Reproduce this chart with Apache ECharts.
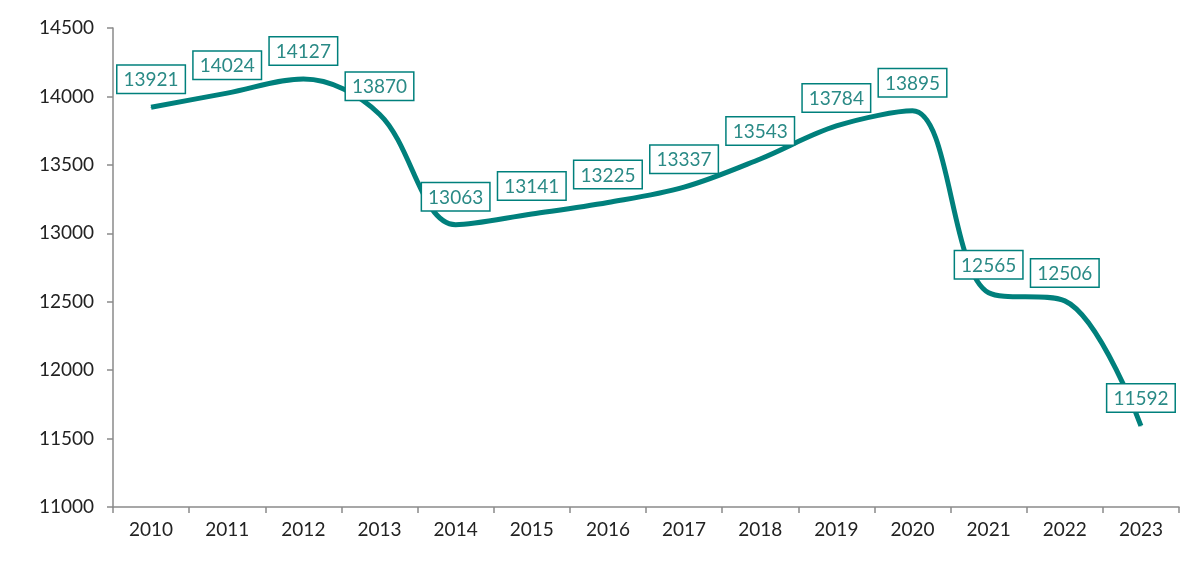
<!DOCTYPE html>
<html>
<head>
<meta charset="utf-8">
<script src="https://cdn.jsdelivr.net/npm/echarts@6/dist/echarts.min.js"></script>
<style>
  html, body { margin: 0; padding: 0; background: #fff; }
  #chart { width: 1200px; height: 562px; }
</style>
</head>
<body>
<div id="chart"></div>
<script>
const years = ["2010", "2011", "2012", "2013", "2014", "2015", "2016",
  "2017", "2018", "2019", "2020", "2021", "2022", "2023"];
const values = [13921, 14024, 14127, 13870, 13063, 13141, 13225,
  13337, 13543, 13784, 13895, 12565, 12506, 11592];

const teal = "#00807c";
const myChart = echarts.init(document.getElementById("chart"));
const option = {
  animation: false,
  textStyle: { fontFamily: "Lato" },
  grid: { left: 113, right: 21, top: 28, bottom: 55 },
  xAxis: {
    type: "category",
    data: years,
    boundaryGap: true,
    axisLine: { lineStyle: { color: "#8a8a8a", width: 1.5 } },
    axisTick: { show: true, length: 6, lineStyle: { color: "#8a8a8a", width: 1.5 } },
    axisLabel: { color: "#222", fontSize: 19, margin: 13 }
  },
  yAxis: {
    type: "value",
    min: 11000,
    max: 14500,
    interval: 500,
    splitLine: { show: false },
    axisLine: { show: true, lineStyle: { color: "#8a8a8a", width: 1.5 } },
    axisTick: { show: true, length: 6, lineStyle: { color: "#8a8a8a", width: 1.5 } },
    axisLabel: { color: "#222", fontSize: 19, margin: 19, formatter: (v) => String(v) }
  },
  series: [
    {
      type: "line",
      data: values,
      smooth: 0.35,
      symbol: "circle",
      symbolSize: 1,
      showSymbol: true,
      itemStyle: { color: teal },
      lineStyle: { color: teal, width: 5 },
      label: {
        show: true,
        position: "top",
        distance: 14,
        color: "#2a8a86",
        fontSize: 19,
        backgroundColor: "#fff",
        borderColor: teal,
        borderWidth: 1.5,
        padding: [5, 6, 3, 6]
      }
    }
  ]
};
myChart.setOption(option, true);
window.addEventListener("resize", () => {
  myChart.resize();
});
</script>
</body>
</html>
